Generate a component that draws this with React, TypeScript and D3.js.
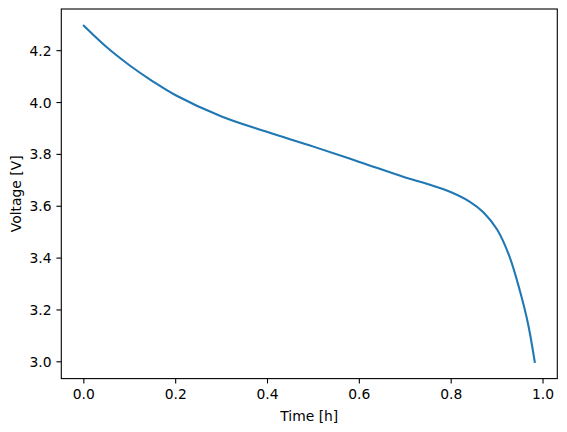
import React from "react";
import * as d3 from "d3";

const timeH = [0, 0.05, 0.1, 0.15, 0.2, 0.3, 0.4, 0.5, 0.6, 0.7, 0.75, 0.8, 0.84, 0.87, 0.9, 0.927, 0.949, 0.967, 0.982];
const voltage = [4.296, 4.213, 4.143, 4.082, 4.028, 3.946, 3.886, 3.83, 3.771, 3.711, 3.685, 3.654, 3.618, 3.577, 3.51, 3.406, 3.278, 3.15, 3.0];
const xTicks = [0.0, 0.2, 0.4, 0.6, 0.8, 1.0];
const yTicks = [3.0, 3.2, 3.4, 3.6, 3.8, 4.0, 4.2];
const xLabel = "Time [h]";
const yLabel = "Voltage [V]";

const W = 567, H = 432;
const left = 61.3, top = 9, pw = 496, ph = 369.6;
const font = "DejaVu Sans, sans-serif";
const fs = 13.89;

export default function App() {
  const [x0, x1] = d3.extent(timeH) as [number, number];
  const [y0, y1] = d3.extent(voltage) as [number, number];
  const mx = (x1 - x0) * 0.05, my = (y1 - y0) * 0.05;
  const x = d3.scaleLinear().domain([x0 - mx, x1 + mx]).range([left, left + pw]);
  const y = d3.scaleLinear().domain([y0 - my, y1 + my]).range([top + ph, top]);
  const pts = timeH.map((t, i) => [t, voltage[i]] as [number, number]);
  const line = d3.line<[number, number]>().x(d => x(d[0])).y(d => y(d[1])).curve(d3.curveCatmullRom.alpha(0.5));
  const bottom = top + ph;
  return (
    <svg width={W} height={H} style={{ position: "absolute", left: 0, top: 0, background: "#fff" }} fontFamily={font}>
      <rect x={0} y={0} width={W} height={H} fill="#fff" />
      <path d={line(pts) || ""} fill="none" stroke="#1f77b4" strokeWidth={2.08} strokeLinejoin="round" strokeLinecap="square" />
      <rect x={left} y={top} width={pw} height={ph} fill="none" stroke="#000" strokeWidth={1.1} />
      {xTicks.map(t => (
        <g key={"x" + t}>
          <line x1={x(t)} x2={x(t)} y1={bottom} y2={bottom + 4.86} stroke="#000" strokeWidth={1.1} />
          <text x={x(t)} y={bottom + 4.86 + 4.86 + fs * 0.76} fontSize={fs} textAnchor="middle" fill="#000">{t.toFixed(1)}</text>
        </g>
      ))}
      {yTicks.map(t => (
        <g key={"y" + t}>
          <line x1={left - 4.86} x2={left} y1={y(t)} y2={y(t)} stroke="#000" strokeWidth={1.1} />
          <text x={left - 4.86 - 4.86} y={y(t)} dy="0.36em" fontSize={fs} textAnchor="end" fill="#000">{t.toFixed(1)}</text>
        </g>
      ))}
      <text x={left + pw / 2} y={H - 11} fontSize={fs} textAnchor="middle" fill="#000">{xLabel}</text>
      <text transform={`translate(${21},${top + ph / 2}) rotate(-90)`} fontSize={fs} textAnchor="middle" fill="#000">{yLabel}</text>
    </svg>
  );
}
